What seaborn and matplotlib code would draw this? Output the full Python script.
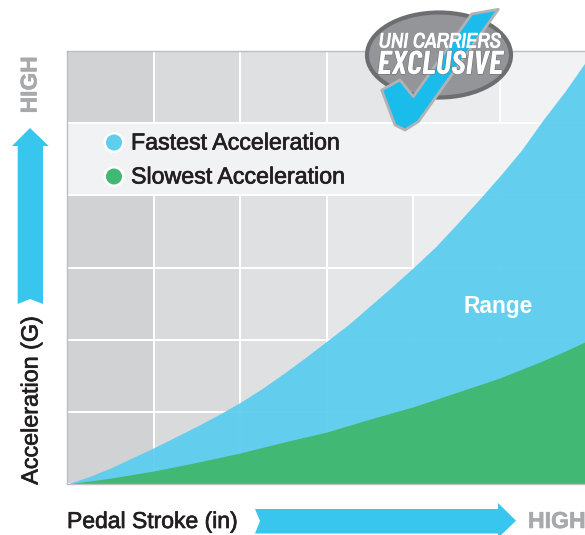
import numpy as np
import matplotlib
matplotlib.use("Agg")
import matplotlib.pyplot as plt
import matplotlib.patheffects as pe
from matplotlib.colors import ListedColormap
from matplotlib.patches import Ellipse, Polygon, Circle, Rectangle
import seaborn as sns

stroke = [0, .25, .5, .75, 1, 1.25, 1.5, 1.75, 2, 2.25, 2.5, 2.75, 3, 3.25, 3.5, 3.75, 4, 4.25, 4.5, 4.75, 5, 5.25, 5.5, 5.75, 6]
fastest = [0, .10, .22, .36, .50, .65, .80, .96, 1.13, 1.32, 1.53, 1.75, 1.98, 2.21, 2.47, 2.73, 3.0, 3.28, 3.60, 3.93, 4.27, 4.63, 5.05, 5.44, 5.87]
slowest = [0, .04, .08, .13, .18, .24, .30, .365, .43, .505, .58, .65, .72, .81, .90, .985, 1.07, 1.17, 1.27, 1.37, 1.47, 1.59, 1.71, 1.84, 1.98]
column_shades = ["#d1d2d4", "#d9dadc", "#dfe0e2", "#e5e6e8", "#ebecee", "#f1f2f4"]
series_names = ["Fastest Acceleration", "Slowest Acceleration"]

BLUE, GREEN, ARROW = "#5ecdee", "#41b873", "#38c5ee"
INK, GREY, EDGE = "#231f20", "#a7a9ac", "#bcbec0"
W, H = 585, 535
NARROW = ["Barlow Condensed", "Archivo Narrow", "Liberation Sans"]

sns.set_style("white")
plt.rcParams["font.family"] = ["Liberation Sans", "DejaVu Sans"]
fig = plt.figure(figsize=(W / 100, H / 100), dpi=100, facecolor="white")
ax = fig.add_axes([67 / W, 1 - 484 / H, 518 / W, 433 / H])

cells = np.tile(np.arange(len(column_shades)), (6, 1))
sns.heatmap(cells, ax=ax, cmap=ListedColormap(column_shades), cbar=False,
            linewidths=1.4, linecolor="white", xticklabels=False, yticklabels=False)
ax.set_xlim(0, 518 / 86.6)
ax.set_ylim(0, 6)
ax.add_patch(Rectangle((0, 4), 6, 1, fc="#f1f2f4", ec="white", lw=1.4, zorder=2))
ax.fill_between(stroke, fastest, color=BLUE, alpha=0.96, lw=0, zorder=3)
ax.fill_between(stroke, slowest, color=GREEN, lw=0, zorder=4)
ax.set_xlabel(""); ax.set_ylabel("")
for s in ("top", "left", "bottom"):
    ax.spines[s].set_visible(True)
    ax.spines[s].set_color(EDGE)
    ax.spines[s].set_linewidth(1.0)
    ax.spines[s].set_zorder(6)
ax.spines["right"].set_visible(False)

ov = fig.add_axes([0, 0, 1, 1], facecolor="none")
ov.set_xlim(0, W); ov.set_ylim(H, 0); ov.axis("off")

def medium(t, c=INK, w=0.5):
    t.set_path_effects([pe.withStroke(linewidth=w, foreground=c)])
    return t

# legend
for name, c, y in zip(series_names, [BLUE, GREEN], [142.5, 176.5]):
    ov.add_patch(Circle((114, y), 10.5, fc="white", ec="none"))
    ov.add_patch(Circle((114, y), 8, fc=c, ec="none"))
    medium(ov.text(131, y + 0.5, name, fontsize=16.7, color=INK, va="center", ha="left"))

ov.text(498, 307, "Range", fontsize=16.4, fontweight="bold", color="white", ha="center", va="center")
medium(ov.text(67, 521.5, "Pedal Stroke (in)", fontsize=16.5, color=INK, va="center", ha="left"))
medium(ov.text(31, 400, "Acceleration (G)", fontsize=16.8, color=INK, va="center", ha="center", rotation=90))
medium(ov.text(528, 521.5, "HIGH", fontsize=16.6, fontweight="bold", color=GREY, va="center", ha="left"), GREY, 0.4)
medium(ov.text(30, 85, "HIGH", fontsize=16.4, fontweight="bold", color=GREY, va="center", ha="center", rotation=90), GREY, 0.4)

# arrows
ov.add_patch(Polygon([(30, 128), (48.7, 146), (43, 146), (43, 304), (30, 299), (17.7, 304), (17.7, 146), (12, 146)],
                     fc=ARROW, ec="none"))
ov.add_patch(Polygon([(255, 509), (498, 509), (498, 503), (516, 520.7), (498, 538), (498, 533.5), (255, 533.5), (260, 521)],
                     fc=ARROW, ec="none"))

# badge
ov.add_patch(Ellipse((439, 55), 144, 85, fc="#939598", ec="#6d6e71", lw=3, zorder=5))
check = [(zx / 3 + 340, zy / 3) for zx, zy in
         [(475, 28), (395, 42), (220, 290), (180, 240), (125, 270), (165, 375), (195, 390), (235, 365)]]
ov.add_patch(Polygon(check, closed=True, fc="#19bcea", ec="#b0b2b5", lw=2, joinstyle="round", zorder=6))
medium(ov.text(440, 42, "UNI CARRIERS", fontsize=15, fontweight="bold", style="italic", color="white",
               family=["Archivo Narrow", "Barlow Condensed", "Liberation Sans"], ha="center", va="center", zorder=7),
       "white", 0.6)
ov.text(440, 65, "EXCLUSIVE", fontsize=24, fontweight="bold", style="italic", color="white",
        family=NARROW, ha="center", va="center", zorder=7,
        path_effects=[pe.withStroke(linewidth=0.8, foreground="#6d6e71")])

fig.savefig("out.png", dpi=100)
